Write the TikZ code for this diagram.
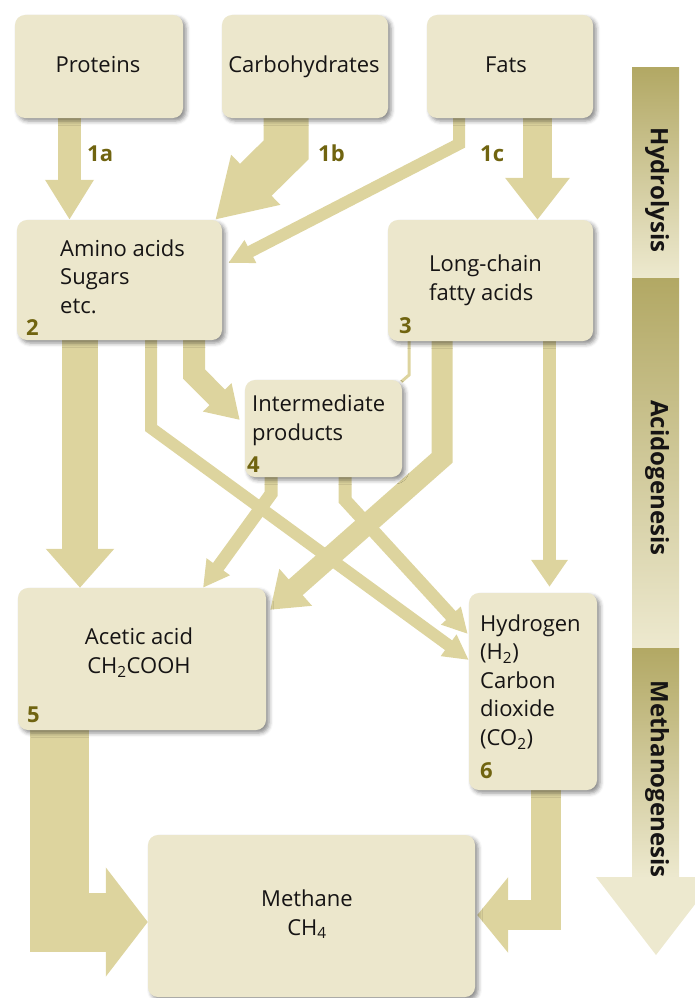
\documentclass[tikz,border=0pt]{standalone}
\usepackage{fontspec}
\setmainfont{Open Sans}
\usetikzlibrary{arrows.meta,shadows.blur,calc}
\definecolor{boxfill}{RGB}{236,231,204}
\definecolor{arrowc}{RGB}{221,212,158}
\definecolor{numc}{RGB}{112,100,16}
\definecolor{bardark}{RGB}{178,168,100}
\definecolor{barlight}{RGB}{237,233,207}
\definecolor{txt}{RGB}{22,20,20}
\pgfdeclarelayer{bg}
\pgfsetlayers{bg,main}
\begin{document}
\begin{tikzpicture}[x=1pt,y=-1pt,
  box/.style={fill=boxfill, rounded corners=10pt, inner sep=0pt,
    blur shadow={shadow xshift=3pt, shadow yshift=-3pt, shadow blur radius=4pt, shadow opacity=45}},
  lbl/.style={font=\fontsize{22}{28.5}\selectfont, text=txt, inner sep=0pt, align=left},
  lblc/.style={lbl, align=center},
  num/.style={font=\fontsize{22}{28}\selectfont\bfseries, text=numc, inner sep=0pt},
  phase/.style={font=\fontsize{24}{28}\selectfont\bfseries, text=txt, inner sep=0pt, rotate=-90},
  flow/.style={draw=arrowc, line join=miter}]
\useasboundingbox (0,0) rectangle (695,998);

% boxes
\node[box, minimum width=168pt, minimum height=103pt] (prot) at (99,66.5) {};
\node[box, minimum width=166pt, minimum height=103pt] (carb) at (305,66.5) {};
\node[box, minimum width=166pt, minimum height=103pt] (fats) at (510,66.5) {};
\node[box, minimum width=205pt, minimum height=120pt] (amino) at (119.5,280) {};
\node[box, minimum width=205pt, minimum height=121pt] (lcfa) at (490.5,280.5) {};
\node[box, minimum width=157pt, minimum height=97pt] (inter) at (323.5,428.5) {};
\node[box, minimum width=248pt, minimum height=142pt] (acetic) at (142,659) {};
\node[box, minimum width=128pt, minimum height=197pt] (hydro) at (533,691.5) {};
\node[box, minimum width=327pt, minimum height=162pt] (methane) at (311.5,916) {};

% texts (base anchor = baseline of last line)
\node[lblc, anchor=base] (tprot) at (98,72) {Proteins};
\node[lblc, anchor=base] (tcarb) at (304,72) {Carbohydrates};
\node[lblc, anchor=base] (tfats) at (506,72) {Fats};
\node[lbl, anchor=base west] (tamino) at (60,313) {Amino acids\\Sugars\\etc.};
\node[lbl, anchor=base west] (tlcfa) at (429,300) {Long-chain\\fatty acids};
\node[lbl, anchor=base west] (tinter) at (252,440) {Intermediate\\products};
\node[lblc, anchor=base] (tacetic) at (139,673) {Acetic acid\\CH\textsubscript{2}COOH};
\node[lbl, anchor=base west] (thydro) at (480,745) {Hydrogen\\(H\textsubscript{2})\\Carbon\\dioxide\\(CO\textsubscript{2})};
\node[lblc, anchor=base] (tmeth) at (307,935) {Methane\\CH\textsubscript{4}};

% numbers
\node[num, anchor=base west] (n1a) at (87,161) {1a};
\node[num, anchor=base west] (n1b) at (318,161) {1b};
\node[num, anchor=base west] (n1c) at (480,161) {1c};
\node[num, anchor=base west] (n2) at (26,335) {2};
\node[num, anchor=base west] (n3) at (399,333) {3};
\node[num, anchor=base west] (n4) at (247,472) {4};
\node[num, anchor=base west] (n5) at (27,722) {5};
\node[num, anchor=base west] (n6) at (480,778) {6};

% phase column
\shade[top color=bardark, bottom color=barlight] (632,68) rectangle (679,278);
\shade[top color=bardark, bottom color=barlight] (632,278) rectangle (679,648);
\shade[top color=bardark, bottom color=barlight] (632,648) rectangle (679,878);
\fill[barlight] (596,877) -- (716,877) -- (656,955) -- cycle;
\node[phase] (phyd) at (657,190) {Hydrolysis};
\node[phase] (pacid) at (657,478) {Acidogenesis};
\node[phase] (pmeth) at (657,779) {Methanogenesis};

% connectors
\begin{pgfonlayer}{bg}
\draw[flow, line width=23pt, -{Triangle[width=46pt,length=40pt]}] (prot.south -| 69.5,0) -- (amino.north -| 69.5,0);
\draw[flow, line width=45pt, -{Triangle[width=66pt,length=57pt]}] (carb.south -| 286,0) -- (286,150) -- ($(amino.north east)+(-7,0)$);
\draw[flow, line width=12pt, -{Triangle[width=24pt,length=25pt]}] (fats.south -| 459,0) -- (459,144) -- ($(amino.east)+(6,-17)$);
\draw[flow, line width=29pt, -{Triangle[width=62pt,length=42pt]}] (fats.south -| 537.5,0) -- (lcfa.north -| 537.5,0);
\draw[flow, line width=36pt, -{Triangle[width=66pt,length=39pt]}] (amino.south -| 80,0) -- (acetic.north -| 80,0);
\draw[flow, line width=12pt, -{Triangle[width=25pt,length=25pt]}] (amino.south -| 151,0) -- (151,428) -- ($(hydro.west)+(0,-31.5)$);
\draw[flow, line width=22pt, -{Triangle[width=38pt,length=32pt]}] (amino.south -| 194,0) -- (194,374) -- ($(inter.west)+(-5,-8.5)$);
\draw[flow, line width=3pt] (lcfa.south -| 409,0) -- (409,375) -- ($(inter.north east)+(-1,2)$);
\draw[flow, line width=21pt, -{Triangle[width=47pt,length=34pt]}] (lcfa.south -| 442,0) -- (442,458) -- ($(acetic.north east)+(4,22)$);
\draw[flow, line width=13pt, -{Triangle[width=35pt,length=27pt]}] (lcfa.south -| 549.5,0) -- ($(hydro.north -| 549.5,0)+(0,-6)$);
\draw[flow, line width=13pt, -{Triangle[width=27pt,length=26pt]}] (inter.south -| 271,0) -- (271,494) -- (acetic.north -| 203,0);
\draw[flow, line width=13pt, -{Triangle[width=25pt,length=25pt]}] (inter.south -| 345,0) -- (345,500) -- ($(hydro.west)+(-1,-57.5)$);
\draw[flow, line width=59pt, -{Triangle[width=107pt,length=42pt]}] (acetic.south -| 59,0) -- (59,922) -- ($(methane.west)+(0,6)$);
\draw[flow, line width=30pt, -{Triangle[width=74pt,length=31pt]}] (hydro.south -| 546,0) -- (546,915) -- ($(methane.east)+(2,-1)$);
\end{pgfonlayer}
\end{tikzpicture}
\end{document}
